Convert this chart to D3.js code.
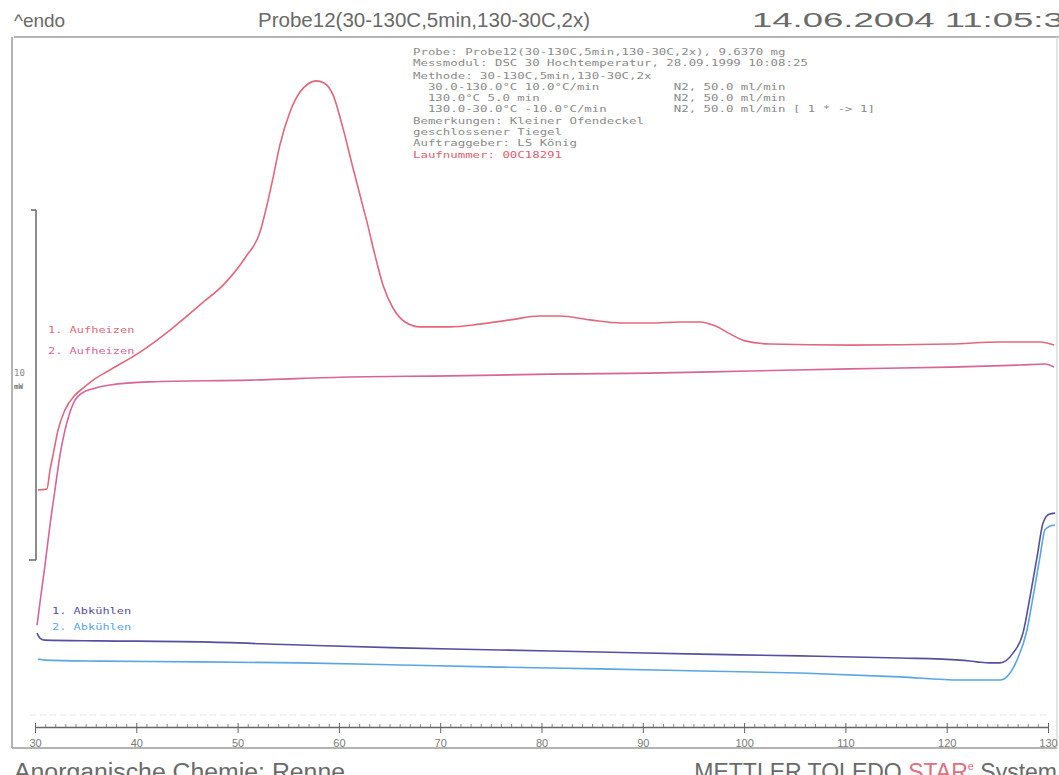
<!DOCTYPE html>
<html>
<head>
<meta charset="utf-8">
<script src="https://cdn.jsdelivr.net/npm/d3@7"></script>
<style>
  body { margin: 0; background: #fff; }
  svg { display: block; }
</style>
</head>
<body>
<svg width="1059" height="775"></svg>
<script>
'use strict';

// temperature (°C) / heat flow (mW)
const heat1T = [30.3, 31.18, 31.48, 31.78, 32.27, 32.96, 33.95, 34.74, 35.73, 37.4, 40.37, 43.33, 46.29, 48.76, 50.73, 52.21, 52.9, 53.49, 54.18, 55.17, 56.16, 56.95, 57.74, 58.53, 59.42, 60.4, 61.39, 62.08, 62.77, 63.56, 64.35, 65.34, 66.53, 68.01, 70.97, 73.93, 76.9, 79.85, 81.83, 84.79, 87.75, 90.71, 93.67, 95.65, 97.13, 98.62, 100.09, 102.56, 110.45, 120.33, 125.26, 129.21, 130.6]
const heat1 = [6.0, 6.03, 6.57, 7.0, 7.71, 8.29, 8.71, 8.91, 9.14, 9.43, 9.94, 10.57, 11.29, 11.91, 12.63, 13.37, 14.14, 14.91, 15.86, 16.8, 17.37, 17.6, 17.69, 17.63, 17.29, 16.34, 15.2, 14.43, 13.66, 12.71, 11.86, 11.2, 10.8, 10.66, 10.66, 10.74, 10.86, 10.97, 10.97, 10.86, 10.77, 10.77, 10.8, 10.8, 10.69, 10.46, 10.26, 10.17, 10.14, 10.17, 10.23, 10.23, 10.14]

const heat2T = [30.2, 30.59, 30.99, 31.48, 31.97, 32.47, 32.96, 33.46, 33.95, 34.64, 35.92, 37.4, 41.35, 51.22, 61.09, 70.97, 80.84, 90.71, 100.58, 110.45, 120.33, 127.24, 129.7, 130.6]
const heat2 = [2.14, 3.0, 3.86, 5.0, 6.0, 7.0, 7.71, 8.23, 8.57, 8.77, 8.91, 9.0, 9.09, 9.14, 9.23, 9.26, 9.31, 9.34, 9.4, 9.46, 9.51, 9.57, 9.6, 9.51]

const cool1T = [30.2, 30.49, 30.99, 36.42, 46.29, 56.16, 66.03, 75.9, 85.78, 95.65, 105.52, 115.39, 121.31, 122.99, 124.27, 125.26, 126.54, 127.53, 128.22, 128.92, 129.51, 130.1, 130.7]
const cool1 = [1.91, 1.77, 1.71, 1.69, 1.66, 1.57, 1.49, 1.43, 1.37, 1.31, 1.26, 1.2, 1.14, 1.09, 1.06, 1.06, 1.34, 1.91, 2.94, 4.09, 5.06, 5.31, 5.34]

const cool2T = [30.3, 30.99, 36.42, 46.29, 56.16, 66.03, 75.9, 85.78, 95.65, 105.52, 115.39, 121.31, 125.26, 126.94, 127.93, 128.52, 129.21, 129.7, 130.2, 130.7]
const cool2 = [1.17, 1.14, 1.11, 1.09, 1.06, 1.0, 0.94, 0.89, 0.83, 0.77, 0.66, 0.57, 0.57, 1.14, 2.0, 2.94, 4.09, 4.86, 4.97, 5.0]

const xTicks = [30, 40, 50, 60, 70, 80, 90, 100, 110, 120, 130]
const scaleBar = [4, 14] // 10 mW

const curveNames = ['1. Aufheizen', '2. Aufheizen', '1. Abkühlen', '2. Abkühlen']

const infoLines = [
  'Probe: Probe12(30-130C,5min,130-30C,2x), 9.6370 mg',
  'Messmodul: DSC 30 Hochtemperatur, 28.09.1999 10:08:25',
  'Methode: 30-130C,5min,130-30C,2x',
  '  30.0-130.0°C 10.0°C/min          N2, 50.0 ml/min',
  '  130.0°C 5.0 min                  N2, 50.0 ml/min',
  '  130.0-30.0°C -10.0°C/min         N2, 50.0 ml/min [ 1 * -> 1]',
  'Bemerkungen: Kleiner Ofendeckel',
  'geschlossener Tiegel',
  'Auftraggeber: LS König',
  'Laufnummer: 00C18291'
]
const infoRows = [55, 66, 79, 90, 101, 112, 124, 135, 146, 158]

const svg = d3.select('svg')

const x = d3.scaleLinear().domain([30, 130]).range([35, 1048])
const y = d3.scaleLinear().domain([0, 20]).range([700, 0])

// frame
const frame = svg.append('g').attr('stroke', '#9a9a9a').attr('stroke-width', 1.5).attr('fill', 'none')
frame.append('line').attr('x1', 14).attr('y1', 37).attr('x2', 1059).attr('y2', 37)
frame.append('line').attr('x1', 12).attr('y1', 37).attr('x2', 12).attr('y2', 748)
frame.append('line').attr('x1', 12).attr('y1', 748).attr('x2', 1057).attr('y2', 748)
frame.append('line').attr('x1', 1057).attr('y1', 37).attr('x2', 1057).attr('y2', 748).attr('stroke', '#ddd')
svg.append('line').attr('x1', 30).attr('y1', 715).attr('x2', 1050).attr('y2', 715)
  .attr('stroke', '#e4e4e4').attr('stroke-dasharray', '6,4')

// header
const header = svg.append('g').attr('font-family', 'Liberation Sans, Arial, sans-serif').attr('fill', '#6a6a6a')
header.append('text').attr('x', 14).attr('y', 27).attr('font-size', 19).text('^endo')
header.append('text').attr('x', 258).attr('y', 27).attr('font-size', 20)
  .attr('textLength', 332).attr('lengthAdjust', 'spacingAndGlyphs').text('Probe12(30-130C,5min,130-30C,2x)')
header.append('text').attr('x', 752).attr('y', 27).attr('font-size', 20)
  .attr('textLength', 332).attr('lengthAdjust', 'spacingAndGlyphs').text('14.06.2004 11:05:34')

// footer
const footer = svg.append('g').attr('font-family', 'Liberation Sans, Arial, sans-serif').attr('fill', '#6a6a6a').attr('font-size', 23)
footer.append('text').attr('x', 14).attr('y', 780)
  .attr('textLength', 331).attr('lengthAdjust', 'spacingAndGlyphs').text('Anorganische Chemie: Renne')
const brand = footer.append('text').attr('x', 1057).attr('y', 780).attr('text-anchor', 'end')
brand.append('tspan').text('METTLER TOLEDO ')
brand.append('tspan').attr('fill', '#e07080').text('STAR')
brand.append('tspan').attr('fill', '#e07080').attr('font-size', 11).attr('dy', -10).text('e')
brand.append('tspan').attr('dy', 10).text(' System')

// info block
const info = svg.append('g').attr('font-family', 'DejaVu Sans Mono, monospace').attr('font-size', 9.5).attr('fill', '#8a8a8a')
info.selectAll('text').data(infoLines).enter().append('text')
  .attr('x', 413)
  .attr('y', (d, i) => infoRows[i])
  .attr('xml:space', 'preserve')
  .style('white-space', 'pre')
  .attr('textLength', (d) => d.length * 7.45)
  .attr('lengthAdjust', 'spacingAndGlyphs')
  .attr('fill', (d, i) => i === infoLines.length - 1 ? '#e06070' : '#8a8a8a')
  .text((d) => d)

// x axis
const axisG = svg.append('g').attr('transform', 'translate(0,727)')
axisG.call(d3.axisBottom(x).tickValues(xTicks).tickSize(6).tickSizeOuter(0).tickPadding(6))
axisG.select('.domain').attr('stroke', '#666').attr('stroke-width', 1.3)
axisG.selectAll('.tick line').attr('stroke', '#666').attr('y1', -4)
axisG.selectAll('.tick text').attr('fill', '#7a7a7a').attr('font-size', 11)
  .attr('font-family', 'Liberation Sans Narrow, Liberation Sans, sans-serif')
const minor = svg.append('g').attr('transform', 'translate(0,727)')
minor.call(d3.axisTop(x).tickValues(d3.range(31, 130).filter((t) => t % 10 !== 0)).tickSize(3).tickFormat(''))
minor.select('.domain').remove()
minor.selectAll('.tick line').attr('stroke', '#888')

// scale bar (10 mW)
const bar = svg.append('g').attr('stroke', '#666').attr('stroke-width', 1.5).attr('fill', 'none')
bar.append('line').attr('x1', 36).attr('y1', y(scaleBar[0])).attr('x2', 36).attr('y2', y(scaleBar[1]))
bar.append('line').attr('x1', 31).attr('y1', y(scaleBar[1])).attr('x2', 36).attr('y2', y(scaleBar[1]))
bar.append('line').attr('x1', 29).attr('y1', y(scaleBar[0])).attr('x2', 36).attr('y2', y(scaleBar[0]))
svg.append('text').attr('x', 14).attr('y', 376).attr('font-size', 9).attr('fill', '#888')
  .attr('font-family', 'DejaVu Sans Mono, monospace').text('10')
svg.append('text').attr('x', 14).attr('y', 389).attr('font-size', 7.5).attr('fill', '#777')
  .attr('font-family', 'DejaVu Sans Mono, monospace').attr('font-weight', 'bold').text('mW')

// curves
const series = [
  {t: heat1T, v: heat1, color: '#e3677c', label: [48, 333]},
  {t: heat2T, v: heat2, color: '#d8649a', label: [48, 354]},
  {t: cool1T, v: cool1, color: '#55509e', label: [52, 614]},
  {t: cool2T, v: cool2, color: '#5aa6e4', label: [52, 630]}
]

const line = d3.line()
  .x((d) => x(d[0]))
  .y((d) => y(d[1]))
  .curve(d3.curveMonotoneX)

svg.append('g').selectAll('path').data(series).enter().append('path')
  .attr('d', (s) => line(d3.zip(s.t, s.v)))
  .attr('fill', 'none')
  .attr('stroke', (s) => s.color)
  .attr('stroke-width', 1.6)

svg.append('g').selectAll('text').data(series).enter().append('text')
  .attr('x', (s) => s.label[0])
  .attr('y', (s) => s.label[1])
  .attr('font-family', 'DejaVu Sans Mono, monospace')
  .attr('font-size', 8.5)
  .attr('fill', (s) => s.color)
  .attr('textLength', (s, i) => curveNames[i].length * 7.2)
  .attr('lengthAdjust', 'spacingAndGlyphs')
  .text((s, i) => curveNames[i])
</script>
</body>
</html>
